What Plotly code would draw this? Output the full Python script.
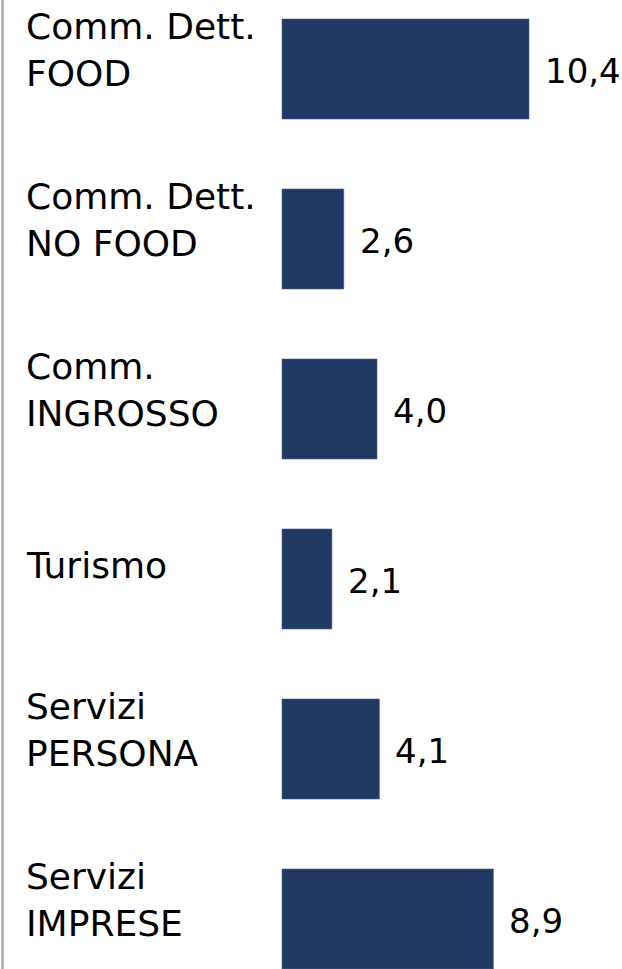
import plotly.graph_objects as go

categories = ["Comm. Dett.<br>FOOD", "Comm. Dett.<br>NO FOOD", "Comm.<br>INGROSSO",
              "Turismo", "Servizi<br>PERSONA", "Servizi<br>IMPRESE"]
values = [10.4, 2.6, 4.0, 2.1, 4.1, 8.9]

W, H = 622, 969
x0_px = 282          # pixel where value 0 sits
px_per_unit = 23.75
row0_px = 69         # centre of first row
row_px = 170         # row pitch

x_range = [-x0_px / px_per_unit, (W - x0_px) / px_per_unit]
y_range = [(H - row0_px) / row_px, -row0_px / row_px]

fig = go.Figure(go.Bar(
    y=list(range(len(categories))), x=values, orientation="h",
    marker=dict(color="#213862", line=dict(color="#4a628c", width=0.6)),
    hoverinfo="skip",
))

label_font = dict(family="DejaVu Sans", size=36, color="#000000")
value_font = dict(family="DejaVu Sans", size=34, color="#000000")
ann = []
for i, (c, v) in enumerate(zip(categories, values)):
    two = "<br>" in c
    ann.append(dict(x=24 / W, xref="paper", y=i, yref="y", text=c, showarrow=False,
                    xanchor="left", yanchor="middle", align="left",
                    yshift=19 if two else 14, font=label_font))
    ann.append(dict(x=v, xref="x", y=i, yref="y", text=f"{v:.1f}".replace(".", ","),
                    showarrow=False, xanchor="left", yanchor="middle", xshift=14,
                    yshift=-2, font=value_font))

fig.update_layout(
    width=W, height=H, margin=dict(l=0, r=0, t=0, b=0),
    paper_bgcolor="white", plot_bgcolor="white",
    xaxis=dict(range=x_range, visible=False, fixedrange=True),
    yaxis=dict(range=y_range, visible=False, fixedrange=True),
    bargap=1 - 100 / row_px,
    showlegend=False,
    annotations=ann,
    shapes=[dict(type="line", xref="paper", yref="paper", x0=2.5 / W, x1=2.5 / W, y0=0, y1=1,
                 line=dict(color="#a9a9a9", width=2.5))],
)
fig.write_html("out.html", config={"displayModeBar": False},
               post_script="document.body.style.margin='0';document.body.style.overflow='hidden';")
